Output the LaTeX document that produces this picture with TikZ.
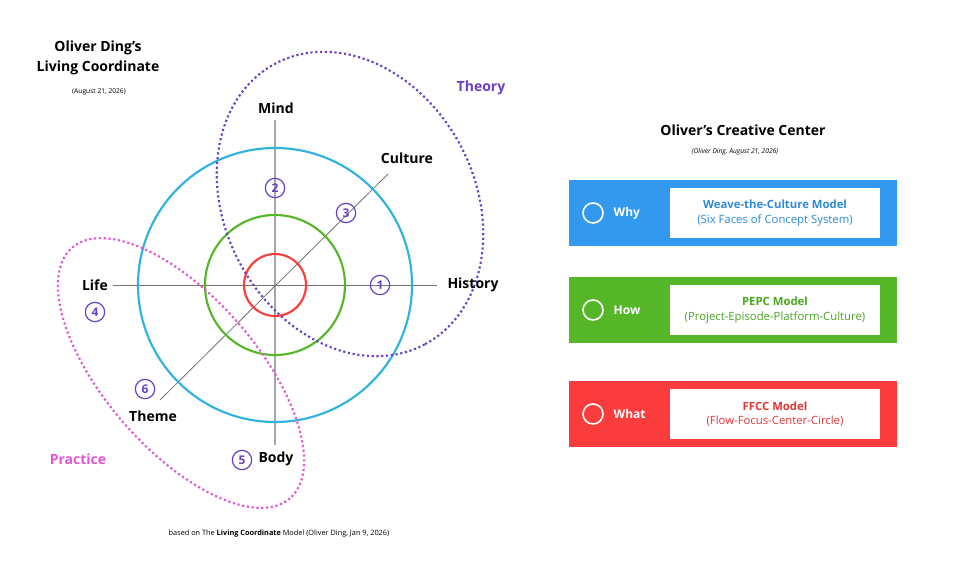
\documentclass[tikz,border=0pt]{standalone}
\usepackage{fontspec}
\setmainfont{Open Sans}
\definecolor{cblue}{HTML}{3399EE}
\definecolor{cgreen}{HTML}{55B627}
\definecolor{cred}{HTML}{FB3C3C}
\definecolor{cpurple}{HTML}{6A3FC8}
\definecolor{cpink}{HTML}{E055D8}
\definecolor{csky}{HTML}{2EB3E0}
\tikzset{
  num/.style={circle,draw=cpurple,text=cpurple,line width=0.9pt,inner sep=0pt,minimum size=14.5pt,font=\bfseries\small},
  axislabel/.style={font=\bfseries\fontsize{10.5}{12}\selectfont},
  band/.style={minimum width=246pt,minimum height=49pt,inner sep=0pt},
  inner/.style={fill=white,minimum width=157pt,minimum height=38pt,inner sep=0pt,align=center,font=\fontsize{8.5}{11}\selectfont},
}
\begin{document}
\begin{tikzpicture}[x=0.75pt,y=-0.75pt]
\useasboundingbox (0,0) rectangle (960,567);

% axes
\draw [gray!70, line width=1pt] (275,120) -- (275,445);
\draw [gray!90!black, line width=0.6pt] (113,285) -- (437,285);
\draw [gray!90!black, line width=0.6pt] (160,400) -- (388,174);

% rings
\draw [csky, line width=1.6pt] (275,285) circle (137);
\draw [cgreen, line width=1.6pt] (275,285) circle (70);
\draw [cred, line width=1.6pt] (275,285) circle (31);

% theory / practice
\draw [cpurple, line width=1.6pt, dotted, rotate around={-62:(350,204)}] (350,204) ellipse (159 and 125);
\draw [cpink, line width=1.6pt, dotted, rotate around={-49:(181,373)}] (181,373) ellipse (166 and 76);

\node (mind) [axislabel] at (276,108) {Mind};
\node (culture) [axislabel] at (407,158) {Culture};
\node (history) [axislabel] at (473,285) {History};
\node (life) [axislabel] at (95,285) {Life};
\node (theme) [axislabel] at (153,416) {Theme};
\node (body) [axislabel] at (276,459) {Body};

\node (n1) [num] at (380,285) {1};
\node (n2) [num] at (275,188) {2};
\node (n3) [num] at (346,213) {3};
\node (n4) [num] at (95,312) {4};
\node (n5) [num] at (242,460) {5};
\node (n6) [num] at (145,389) {6};

\node (theory) [text=cpurple, font=\bfseries\fontsize{10.5}{12}\selectfont] at (481,88) {Theory};
\node (practice) [text=cpink, font=\bfseries\fontsize{10.5}{12}\selectfont] at (78,459) {Practice};

\node (title) [font=\bfseries\fontsize{10.5}{15}\selectfont, align=center] at (98,58) {Oliver Ding's\\Living Coordinate};
\node (date) [font=\fontsize{5}{6}\selectfont] at (99,92) {(August 21, 2026)};
\node (source) [font=\fontsize{5.5}{7}\selectfont] at (279,534) {based on The \textbf{Living Coordinate} Model (Oliver Ding, Jan 9, 2026)};

% right panel
\node (center) [font=\bfseries\fontsize{10.5}{12}\selectfont] at (743,130) {Oliver's Creative Center};
\node (sub) [font=\itshape\fontsize{5}{6}\selectfont] at (735,152) {(Oliver Ding, August 21, 2026)};

\node (why) [band, fill=cblue] at (733,213) {};
\node (whybox) [inner] at (775,213) {\textcolor{cblue!90!black}{\textbf{Weave-the-Culture Model}}\\\textcolor{cblue!90!black}{(Six Faces of Concept System)}};
\draw [white, line width=1.2pt] (593,213) circle (10);
\node (whylbl) [text=white, font=\bfseries\small, anchor=west] at (609,213) {Why};

\node (how) [band, fill=cgreen] at (733,310) {};
\node (howbox) [inner] at (775,310) {\textcolor{cgreen!90!black}{\textbf{PEPC Model}}\\\textcolor{cgreen!90!black}{(Project-Episode-Platform-Culture)}};
\draw [white, line width=1.2pt] (593,310) circle (10);
\node (howlbl) [text=white, font=\bfseries\small, anchor=west] at (609,310) {How};

\node (what) [band, fill=cred] at (733,414) {};
\node (whatbox) [inner] at (775,414) {\textcolor{cred!90!black}{\textbf{FFCC Model}}\\\textcolor{cred!90!black}{(Flow-Focus-Center-Circle)}};
\draw [white, line width=1.2pt] (593,414) circle (10);
\node (whatlbl) [text=white, font=\bfseries\small, anchor=west] at (609,414) {What};
\end{tikzpicture}
\end{document}
